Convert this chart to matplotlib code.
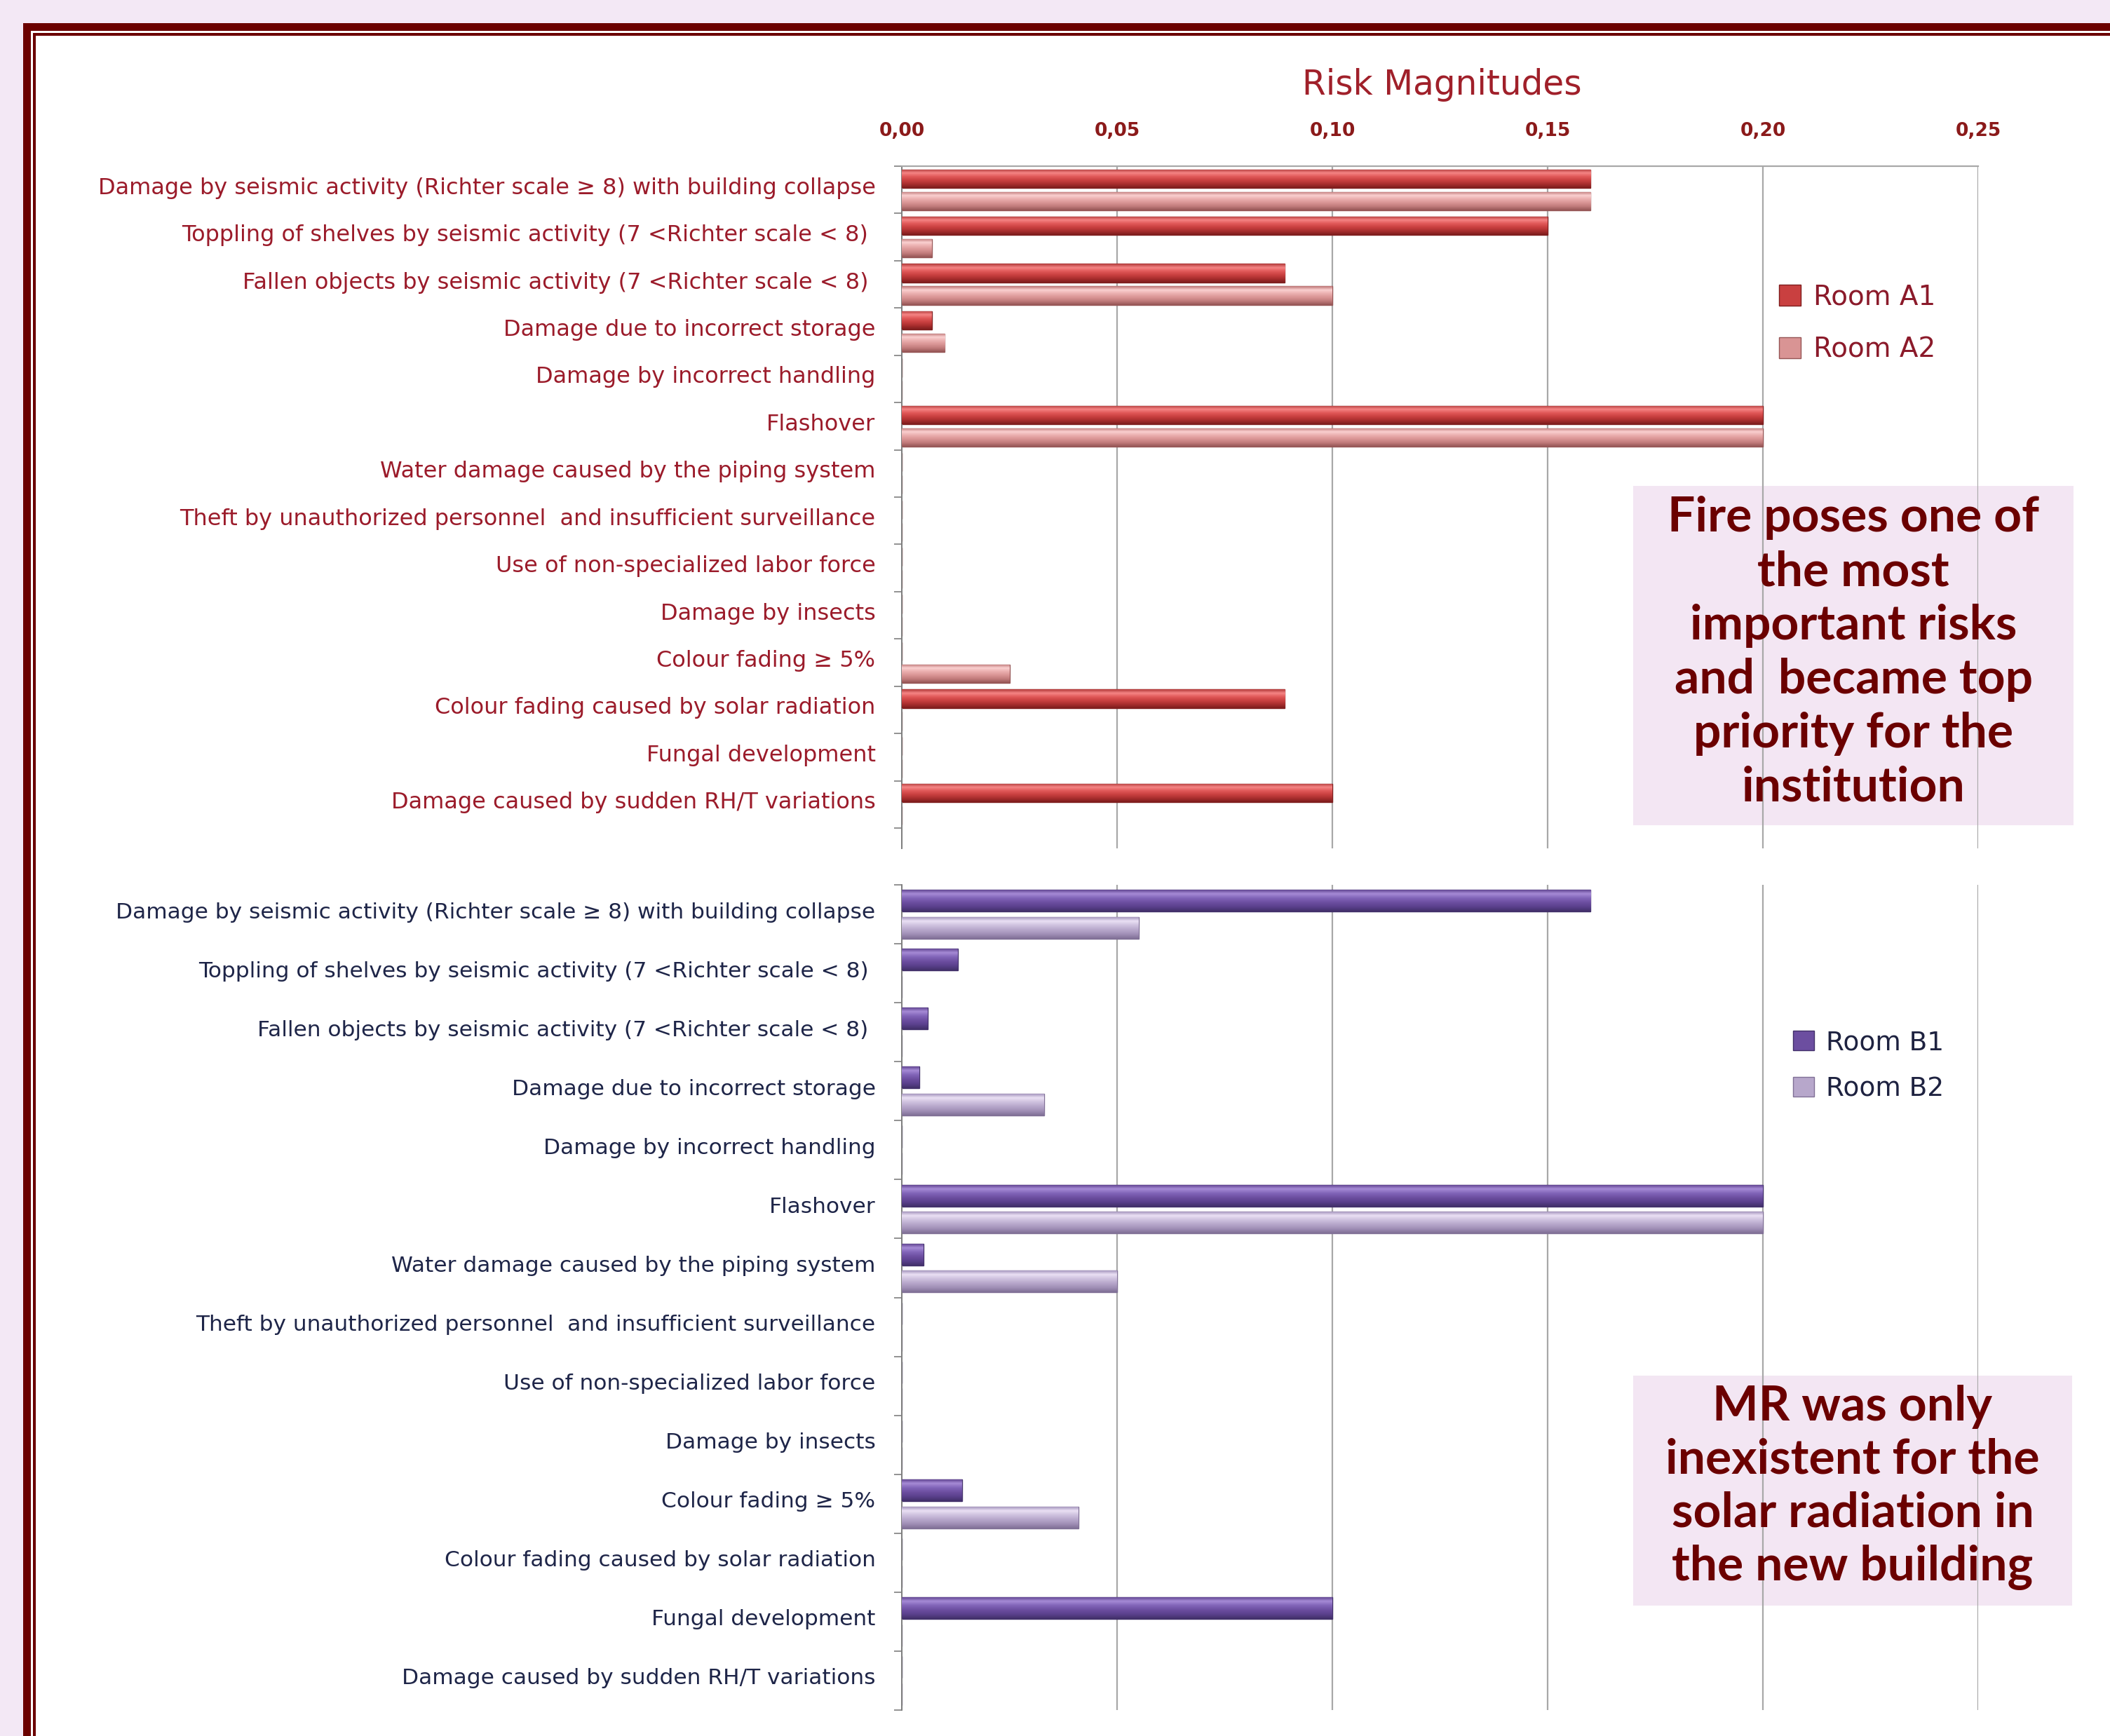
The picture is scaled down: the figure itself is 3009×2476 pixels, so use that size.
import numpy as np
import matplotlib
matplotlib.use("Agg")
import matplotlib.pyplot as plt
import matplotlib.transforms as mtransforms
from matplotlib.patches import Rectangle, Patch
from matplotlib.colors import LinearSegmentedColormap

# data
categories = [
    "Damage by seismic activity (Richter scale ≥ 8) with building collapse",
    "Toppling of shelves by seismic activity (7 <Richter scale < 8) ",
    "Fallen objects by seismic activity (7 <Richter scale < 8) ",
    "Damage due to incorrect storage",
    "Damage by incorrect handling",
    "Flashover",
    "Water damage caused by the piping system",
    "Theft by unauthorized personnel  and insufficient surveillance",
    "Use of non-specialized labor force",
    "Damage by insects",
    "Colour fading ≥ 5%",
    "Colour fading caused by solar radiation",
    "Fungal development",
    "Damage caused by sudden RH/T variations",
]
room_a1 = [0.160, 0.150, 0.089, 0.007, 0, 0.200, 0, 0, 0, 0, 0, 0.089, 0, 0.100]
room_a2 = [0.160, 0.007, 0.100, 0.010, 0, 0.200, 0, 0, 0, 0, 0.025, 0, 0, 0]
room_b1 = [0.160, 0.013, 0.006, 0.004, 0, 0.200, 0.005, 0, 0, 0, 0.014, 0, 0.100, 0]
room_b2 = [0.055, 0, 0, 0.033, 0, 0.200, 0.050, 0, 0, 0, 0.041, 0, 0, 0]
x_ticks = [0, 0.05, 0.10, 0.15, 0.20, 0.25]
x_tick_labels = ["0,00", "0,05", "0,10", "0,15", "0,20", "0,25"]

note_top = ["Fire poses one of", "the most", "important risks",
            "and  became top", "priority for the", "institution"]
note_bottom = ["MR was only", "inexistent for the",
               "solar radiation in", "the new building"]

# colours (top edge -> highlight -> body -> bottom shadow)
grad_a1 = ["#B23A3A", "#F58585", "#E05858", "#C94040", "#A82E2E", "#7E1E1E"]
grad_a2 = ["#BE7676", "#FAD0D0", "#EAAEAE", "#D99494", "#C07A7A", "#965656"]
grad_b1 = ["#583C88", "#A68BD6", "#8164B8", "#6C4EA0", "#5A408C", "#42306A"]
grad_b2 = ["#9C8CB6", "#EAE0F4", "#CEC1DE", "#B7A7CB", "#A08FB6", "#807096"]

W, H = 3009, 2476
plt.rcParams['font.family'] = ['DejaVu Sans']

fig = plt.figure(figsize=(W / 100, H / 100), dpi=100)
fig.patch.set_facecolor("#F3E8F5")


def px_rect(x0, y0, x1, y1, **kw):
    r = Rectangle((x0 / W, 1 - y1 / H), (x1 - x0) / W, (y1 - y0) / H,
                  transform=fig.transFigure, **kw)
    fig.add_artist(r)
    return r


# frame
px_rect(33, 33, W + 50, H + 50, facecolor="#6B0000", lw=0, zorder=-10)
px_rect(44, 44, W + 50, H + 50, facecolor="white", lw=0, zorder=-9)
px_rect(47, 47, W + 50, H + 50, facecolor="#6B0000", lw=0, zorder=-8)
px_rect(51, 51, W + 50, H + 50, facecolor="white", lw=0, zorder=-7)

# note boxes
px_rect(2329, 693, 2957, 1177, facecolor="#F3E6F3", lw=0, zorder=-5)
px_rect(2329, 1962, 2955, 2290, facecolor="#F3E6F3", lw=0, zorder=-5)


def shade_bars(ax, bars, colors):
    cmap = LinearSegmentedColormap.from_list("g", colors)
    grad = np.linspace(0, 1, 64).reshape(-1, 1)
    for b in bars:
        w = b.get_width()
        if w <= 0:
            continue
        x0, y0, h = b.get_x(), b.get_y(), b.get_height()
        im = ax.imshow(grad, cmap=cmap, aspect="auto", origin="lower",
                       extent=(x0, x0 + w, y0, y0 + h), zorder=3,
                       interpolation="bilinear")
        im.set_clip_path(b)


def style_axes(ax, n, bottom, labels_color, labels_size, top_spine):
    ax.set_facecolor("none")
    ax.set_xlim(0, 0.25)
    ax.set_ylim(bottom, -0.5)
    ax.set_xticks(x_ticks)
    ax.grid(axis="x", color="#A8A8A8", lw=1.6)
    ax.set_axisbelow(True)
    ax.set_yticks(np.arange(n))
    ax.set_yticklabels(categories, fontsize=labels_size, color=labels_color)
    ax.set_yticks(np.arange(-0.5, n, 1), minor=True)
    ax.tick_params(axis="y", which="major", length=0, pad=27)
    ax.tick_params(axis="y", which="minor", length=8, width=1.2, color="#7F7F7F")
    # nudge the category labels up a little
    shift = mtransforms.ScaledTranslation(0, 0.06, fig.dpi_scale_trans)
    for t in ax.get_yticklabels():
        t.set_transform(t.get_transform() + shift)
    for s in ["right", "bottom"]:
        ax.spines[s].set_visible(False)
    ax.spines["top"].set_visible(top_spine)
    ax.spines["top"].set_color("#A8A8A8")
    ax.spines["top"].set_linewidth(1.6)
    ax.spines["left"].set_color("#7F7F7F")
    ax.spines["left"].set_linewidth(1.4)


y = np.arange(len(categories))

# top chart: rooms A
ax1 = fig.add_axes([1286 / W, 1 - 1210 / H, (2821 - 1286) / W, (1210 - 237) / H])
bars_a1 = ax1.barh(y - 0.237, room_a1, height=0.39, color=grad_a1[3],
                   edgecolor=grad_a1[5], lw=1.0, zorder=2)
bars_a2 = ax1.barh(y + 0.237, room_a2, height=0.39, color=grad_a2[3],
                   edgecolor=grad_a2[5], lw=1.0, zorder=2)
shade_bars(ax1, bars_a1, grad_a1)
shade_bars(ax1, bars_a2, grad_a2)
style_axes(ax1, len(categories), 13.93, "#9B1B2A", 23, True)
ax1.xaxis.tick_top()
ax1.set_xticklabels(x_tick_labels)
ax1.tick_params(axis="x", length=0, pad=27, labelsize=19, labelcolor="#8B1A1A")
for t in ax1.get_xticklabels():
    t.set_fontweight("bold")

# bottom chart: rooms B
ax2 = fig.add_axes([1286 / W, 1 - 2439 / H, (2821 - 1286) / W, (2439 - 1262) / H])
bars_b1 = ax2.barh(y - 0.23, room_b1, height=0.37, color=grad_b1[3],
                   edgecolor=grad_b1[5], lw=1.0, zorder=2)
bars_b2 = ax2.barh(y + 0.23, room_b2, height=0.37, color=grad_b2[3],
                   edgecolor=grad_b2[5], lw=1.0, zorder=2)
shade_bars(ax2, bars_b1, grad_b1)
shade_bars(ax2, bars_b2, grad_b2)
style_axes(ax2, len(categories), 13.5, "#1E2548", 22.5, False)
ax2.tick_params(axis="x", length=0, labelbottom=False, labeltop=False)

# title
fig.text(2056 / W, 1 - 121 / H, "Risk Magnitudes", ha="center", va="center",
         fontsize=35, color="#A0202A")

# legends
hA = [Patch(facecolor=grad_a1[3], edgecolor=grad_a1[5]),
      Patch(facecolor=grad_a2[3], edgecolor=grad_a2[5])]
legA = ax1.legend(hA, ["Room A1", "Room A2"], loc="center left",
                  bbox_to_anchor=(2537 / W, 1 - 461 / H), bbox_transform=fig.transFigure,
                  frameon=False, fontsize=28, handlelength=0.8, handleheight=0.8,
                  handletextpad=0.45, labelspacing=0.95, borderpad=0, borderaxespad=0)
for t in legA.get_texts():
    t.set_color("#8B1A2A")

hB = [Patch(facecolor=grad_b1[3], edgecolor=grad_b1[5]),
      Patch(facecolor=grad_b2[3], edgecolor=grad_b2[5])]
legB = ax2.legend(hB, ["Room B1", "Room B2"], loc="center left",
                  bbox_to_anchor=(2557 / W, 1 - 1520 / H), bbox_transform=fig.transFigure,
                  frameon=False, fontsize=27, handlelength=0.8, handleheight=0.8,
                  handletextpad=0.45, labelspacing=0.8, borderpad=0, borderaxespad=0)
for t in legB.get_texts():
    t.set_color("#1E2240")

# notes
for i, line in enumerate(note_top):
    fig.text(2643 / W, 1 - (758 + i * 77) / H, line, ha="center", va="baseline",
             fontsize=50, fontweight="bold", color="#6B0000",
             family=["Lato", "DejaVu Sans"], zorder=5)
for i, line in enumerate(note_bottom):
    fig.text(2642 / W, 1 - (2026 + i * 76) / H, line, ha="center", va="baseline",
             fontsize=50, fontweight="bold", color="#6B0000",
             family=["Lato", "DejaVu Sans"], zorder=5)

fig.savefig("out.png", dpi=100, facecolor=fig.get_facecolor())
